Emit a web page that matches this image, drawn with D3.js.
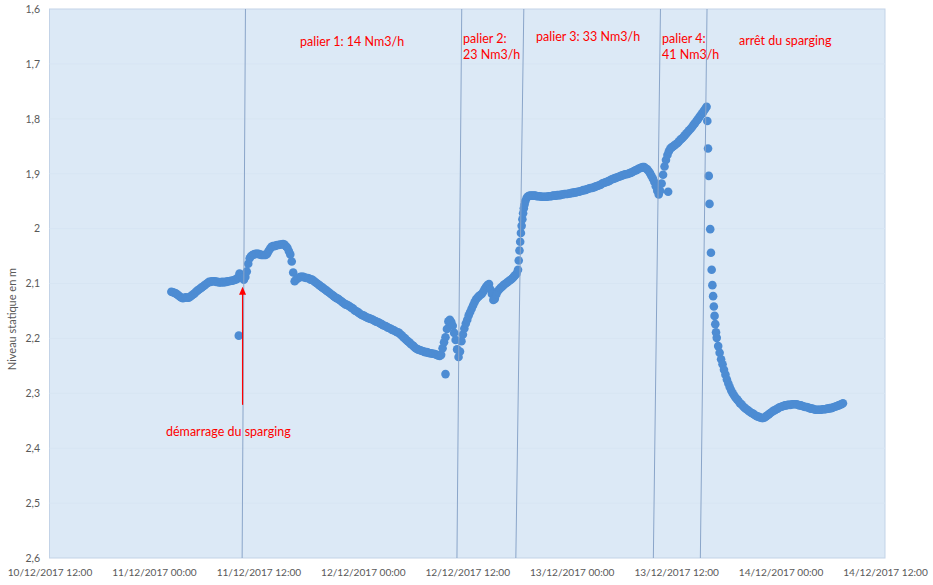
<!DOCTYPE html>
<html>
<head>
<meta charset="utf-8">
<script src="https://cdn.jsdelivr.net/npm/d3@7"></script>
<style>
  html, body { margin: 0; padding: 0; background: #ffffff; }
  svg { display: block; font-family: Lato, "Open Sans", sans-serif; }
</style>
</head>
<body>
<svg id="chart" width="933" height="585"></svg>
<script>
// Niveau statique (m), un relevé toutes les 10 minutes à partir de firstReading
const firstReading = "11/12/2017 02:00";
const readingStepMinutes = 10;
const levels = [
  2.115,2.116,2.117,2.118,2.120,2.122, 2.124,2.126,2.127,2.126,2.125,2.126,
  2.126,2.124,2.122,2.120,2.118,2.115, 2.113,2.111,2.109,2.107,2.105,2.103,
  2.101,2.099,2.097,2.097,2.096,2.096, 2.096,2.097,2.097,2.098,2.098,2.097,
  2.098,2.097,2.097,2.096,2.096,2.095, 2.095,2.094,2.093,2.092,2.089,2.082,
  2.086,2.090,2.093,2.088,2.078,2.064, 2.054,2.050,2.048,2.047,2.046,2.046,
  2.046,2.047,2.048,2.048,2.048,2.048, 2.046,2.041,2.037,2.033,2.032,2.032,
  2.031,2.030,2.030,2.029,2.029,2.028, 2.029,2.032,2.035,2.041,2.047,2.060,
  2.080,2.096,2.093,2.091,2.089,2.088, 2.088,2.088,2.089,2.090,2.090,2.091,
  2.093,2.093,2.095,2.097,2.099,2.101, 2.103,2.105,2.107,2.109,2.111,2.113,
  2.115,2.117,2.119,2.121,2.123,2.125, 2.127,2.128,2.130,2.132,2.134,2.136,
  2.138,2.139,2.140,2.142,2.144,2.145, 2.148,2.150,2.151,2.153,2.155,2.157,
  2.158,2.159,2.161,2.162,2.163,2.164, 2.165,2.166,2.168,2.169,2.170,2.171,
  2.173,2.174,2.176,2.177,2.178,2.180, 2.181,2.182,2.184,2.185,2.186,2.188,
  2.189,2.190,2.193,2.195,2.198,2.200, 2.203,2.205,2.207,2.210,2.212,2.214,
  2.217,2.219,2.220,2.221,2.222,2.223, 2.224,2.225,2.225,2.226,2.227,2.227,
  2.228,2.228,2.229,2.230,2.231,2.232, 2.230,2.218,2.207,2.198,2.183,2.169,
  2.166,2.170,2.177,2.190,2.203,2.220, 2.234,2.224,2.205,2.193,2.182,2.173,
  2.166,2.158,2.152,2.146,2.140,2.134, 2.129,2.126,2.123,2.121,2.119,2.115,
  2.110,2.106,2.103,2.101,2.111,2.119, 2.130,2.128,2.120,2.114,2.111,2.108,
  2.106,2.103,2.101,2.099,2.097,2.095, 2.093,2.091,2.088,2.085,2.082,2.075,
  2.040,2.008,1.983,1.963,1.950,1.944, 1.941,1.940,1.940,1.940,1.940,1.940,
  1.941,1.941,1.941,1.942,1.942,1.942, 1.942,1.942,1.941,1.941,1.941,1.940,
  1.940,1.940,1.939,1.939,1.939,1.938, 1.938,1.937,1.937,1.937,1.936,1.936,
  1.935,1.935,1.934,1.934,1.933,1.933, 1.932,1.931,1.930,1.930,1.929,1.928,
  1.927,1.926,1.926,1.925,1.924,1.923, 1.922,1.921,1.920,1.918,1.917,1.916,
  1.915,1.914,1.913,1.911,1.910,1.909, 1.908,1.907,1.906,1.905,1.904,1.903,
  1.902,1.901,1.901,1.900,1.899,1.898, 1.897,1.895,1.894,1.893,1.891,1.890,
  1.889,1.888,1.888,1.890,1.892,1.895, 1.899,1.904,1.909,1.915,1.923,1.931,
  1.938,1.931,1.918,1.902,1.887,1.875, 1.866,1.859,1.854,1.852,1.850,1.848,
  1.846,1.844,1.841,1.838,1.836,1.833, 1.830,1.827,1.824,1.821,1.818,1.815,
  1.811,1.808,1.804,1.801,1.797,1.793, 1.790,1.786,1.782,1.778,1.854,1.955,
  2.044,2.103,2.142,2.174,2.199,2.214, 2.226,2.238,2.247,2.257,2.266,2.275,
  2.282,2.289,2.295,2.300,2.304,2.308, 2.311,2.314,2.318,2.320,2.323,2.326,
  2.328,2.330,2.332,2.334,2.336,2.337, 2.339,2.341,2.342,2.343,2.344,2.345,
  2.345,2.344,2.342,2.340,2.338,2.336, 2.334,2.332,2.331,2.329,2.328,2.326,
  2.325,2.324,2.323,2.322,2.322,2.321, 2.321,2.321,2.320,2.320,2.320,2.320,
  2.321,2.322,2.322,2.323,2.324,2.325, 2.325,2.326,2.327,2.328,2.328,2.329,
  2.330,2.330,2.330,2.330,2.330,2.329, 2.329,2.329,2.328,2.328,2.327,2.327,
  2.326,2.325,2.324,2.323,2.322,2.321, 2.320,2.318
];

// Relevés intermédiaires (pas de 5 min) pendant les variations rapides, et relevés isolés
const extraTimes = [
  "11/12/2017 09:45", "12/12/2017 09:30",
  "12/12/2017 17:55", "12/12/2017 18:05", "12/12/2017 18:15", "12/12/2017 18:25", "12/12/2017 18:35",
  "13/12/2017 11:05",
  "13/12/2017 15:35", "13/12/2017 15:45", "13/12/2017 15:55", "13/12/2017 16:05",
  "13/12/2017 16:15", "13/12/2017 16:25", "13/12/2017 16:35"
];
const extraLevels = [
  2.195, 2.265,
  2.058, 2.024, 1.995, 1.972, 1.956,
  1.933,
  1.804, 1.904, 2.001, 2.075,
  2.123, 2.159, 2.189
];

// Traits verticaux des changements de débit (heure en haut / en bas du tracé)
const eventTopTimes    = ["11/12/2017 10:31", "12/12/2017 11:22", "12/12/2017 18:30", "13/12/2017 10:12", "13/12/2017 15:33"];
const eventBottomTimes = ["11/12/2017 10:08", "12/12/2017 10:49", "12/12/2017 17:35", "13/12/2017 09:23", "13/12/2017 14:47"];

const yTicks = [1.6, 1.7, 1.8, 1.9, 2.0, 2.1, 2.2, 2.3, 2.4, 2.5, 2.6];
const xTickTimes = [
  "10/12/2017 12:00", "11/12/2017 00:00", "11/12/2017 12:00", "12/12/2017 00:00",
  "12/12/2017 12:00", "13/12/2017 00:00", "13/12/2017 12:00", "14/12/2017 00:00", "14/12/2017 12:00"
];
const yTitle = "Niveau statique en m";

const parse = d3.timeParse("%d/%m/%Y %H:%M");
const fmtX = d3.timeFormat("%d/%m/%Y %H:%M");

const plot = { left: 49.5, right: 885, top: 9, bottom: 558 };

const x = d3.scaleTime()
  .domain([parse(xTickTimes[0]), parse(xTickTimes[xTickTimes.length - 1])])
  .range([plot.left, plot.right]);
const y = d3.scaleLinear().domain([1.6, 2.6]).range([plot.top, plot.bottom]);

const t0 = parse(firstReading);
const points = levels.map((v, i) => ({ t: d3.timeMinute.offset(t0, i * readingStepMinutes), v }))
  .concat(extraTimes.map((s, i) => ({ t: parse(s), v: extraLevels[i] })));

const svg = d3.select("#chart");

// zone de tracé
svg.append("rect")
  .attr("x", plot.left).attr("y", plot.top)
  .attr("width", plot.right - plot.left).attr("height", plot.bottom - plot.top)
  .attr("fill", "#dce9f6").attr("stroke", "#c3d3e7").attr("stroke-width", 1);

// quadrillage horizontal très léger
svg.append("g").selectAll("line")
  .data(yTicks.slice(1, -1))
  .join("line")
  .attr("x1", plot.left).attr("x2", plot.right)
  .attr("y1", d => y(d)).attr("y2", d => y(d))
  .attr("stroke", "#d7e5f3").attr("stroke-width", 1);

// points de mesure
svg.append("g").selectAll("circle")
  .data(points)
  .join("circle")
  .attr("cx", d => x(d.t))
  .attr("cy", d => y(d.v))
  .attr("r", 4.3)
  .attr("fill", "#4d8cd3");

// traits des paliers
svg.append("g").selectAll("line")
  .data(eventTopTimes.map((s, i) => [parse(s), parse(eventBottomTimes[i])]))
  .join("line")
  .attr("x1", d => x(d[0])).attr("y1", plot.top)
  .attr("x2", d => x(d[1])).attr("y2", plot.bottom)
  .attr("stroke", "#8aa5c9").attr("stroke-width", 1);

// axe des ordonnées
const yAxis = d3.axisLeft(y)
  .tickValues(yTicks)
  .tickSize(0)
  .tickPadding(9.5)
  .tickFormat(d => (Math.abs(d - Math.round(d)) < 1e-9 ? String(Math.round(d)) : d3.format(".1f")(d).replace(".", ",")));
const gy = svg.append("g").attr("transform", `translate(${plot.left},0)`).call(yAxis);
gy.select(".domain").remove();
gy.selectAll("text").attr("fill", "#595959").style("font-size", "10.5px").style("font-family", "Lato, sans-serif");

// axe des abscisses
const xAxis = d3.axisBottom(x)
  .tickValues(xTickTimes.map(parse))
  .tickSize(0)
  .tickPadding(11)
  .tickFormat(fmtX);
const gx = svg.append("g").attr("transform", `translate(0,${plot.bottom})`).call(xAxis);
gx.select(".domain").remove();
gx.selectAll("text").attr("fill", "#595959").style("font-size", "10.1px").style("font-family", "Lato, sans-serif");

// titre de l'axe vertical
svg.append("text")
  .attr("transform", "translate(16,319) rotate(-90)")
  .attr("text-anchor", "middle")
  .attr("fill", "#595959")
  .style("font-size", "11px")
  .text(yTitle);

// annotations
const red = "#ff0000";
const notes = [
  { x: 300, y: 46, lines: ["palier 1: 14 Nm3/h"] },
  { x: 463, y: 43, lines: ["palier 2:", "23 Nm3/h"] },
  { x: 536, y: 41, lines: ["palier 3: 33 Nm3/h"] },
  { x: 662, y: 43, lines: ["palier 4:", "41 Nm3/h"] },
  { x: 739, y: 45, lines: ["arrêt du sparging"] },
  { x: 166, y: 436, lines: ["démarrage du sparging"] }
];
notes.forEach(n => {
  const t = svg.append("text").attr("x", n.x).attr("y", n.y)
    .attr("fill", red).style("font-size", "12.5px");
  n.lines.forEach((l, i) => t.append("tspan").attr("x", n.x).attr("dy", i ? 16 : 0).text(l));
});

// flèche du démarrage
const arrowTime = parse("11/12/2017 10:11");
const ax = x(arrowTime);
const tipY = y(2.106), tailY = y(2.321);
svg.append("line")
  .attr("x1", ax).attr("x2", ax).attr("y1", tailY).attr("y2", tipY + 6)
  .attr("stroke", red).attr("stroke-width", 1.2);
svg.append("path")
  .attr("d", `M${ax},${tipY} L${ax - 3.5},${tipY + 8} L${ax + 3.5},${tipY + 8} Z`)
  .attr("fill", red);
</script>
</body>
</html>
